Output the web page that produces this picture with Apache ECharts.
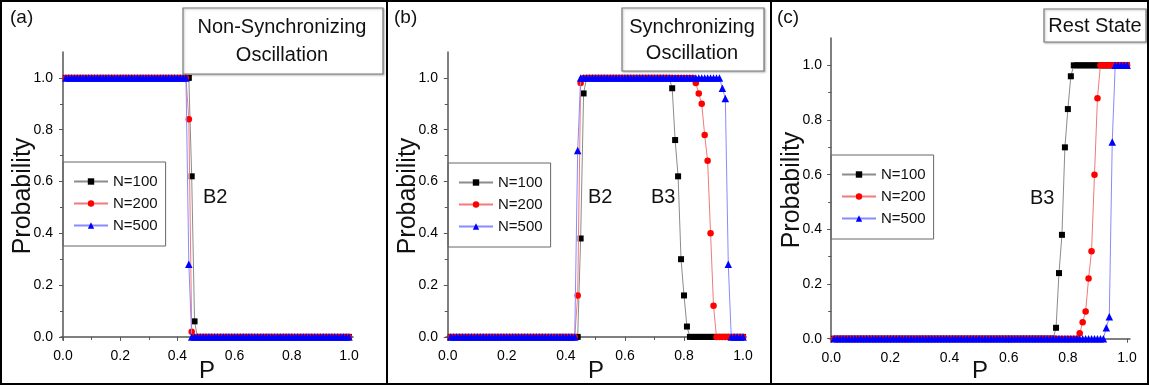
<!DOCTYPE html>
<html>
<head>
<meta charset="utf-8">
<script src="https://cdn.jsdelivr.net/npm/echarts@6/dist/echarts.min.js"></script>
<style>
  html, body { margin: 0; padding: 0; background: #fff; }
  #chart { width: 1149px; height: 390px; }
</style>
</head>
<body>
<div id="chart"></div>
<script>
// coupling probability P, sampled every 0.01
var P = [
  0.01, 0.02, 0.03, 0.04, 0.05, 0.06, 0.07, 0.08, 0.09, 0.10,
  0.11, 0.12, 0.13, 0.14, 0.15, 0.16, 0.17, 0.18, 0.19, 0.20,
  0.21, 0.22, 0.23, 0.24, 0.25, 0.26, 0.27, 0.28, 0.29, 0.30,
  0.31, 0.32, 0.33, 0.34, 0.35, 0.36, 0.37, 0.38, 0.39, 0.40,
  0.41, 0.42, 0.43, 0.44, 0.45, 0.46, 0.47, 0.48, 0.49, 0.50,
  0.51, 0.52, 0.53, 0.54, 0.55, 0.56, 0.57, 0.58, 0.59, 0.60,
  0.61, 0.62, 0.63, 0.64, 0.65, 0.66, 0.67, 0.68, 0.69, 0.70,
  0.71, 0.72, 0.73, 0.74, 0.75, 0.76, 0.77, 0.78, 0.79, 0.80,
  0.81, 0.82, 0.83, 0.84, 0.85, 0.86, 0.87, 0.88, 0.89, 0.90,
  0.91, 0.92, 0.93, 0.94, 0.95, 0.96, 0.97, 0.98, 0.99, 1.00
];

// (a) Non-Synchronizing Oscillation
var a100 = [
  1, 1, 1, 1, 1, 1, 1, 1, 1, 1,
  1, 1, 1, 1, 1, 1, 1, 1, 1, 1,
  1, 1, 1, 1, 1, 1, 1, 1, 1, 1,
  1, 1, 1, 1, 1, 1, 1, 1, 1, 1,
  1, 1, 1, 1, 0.62, 0.06, 0, 0, 0, 0,
  0, 0, 0, 0, 0, 0, 0, 0, 0, 0,
  0, 0, 0, 0, 0, 0, 0, 0, 0, 0,
  0, 0, 0, 0, 0, 0, 0, 0, 0, 0,
  0, 0, 0, 0, 0, 0, 0, 0, 0, 0,
  0, 0, 0, 0, 0, 0, 0, 0, 0, 0
];
var a200 = [
  1, 1, 1, 1, 1, 1, 1, 1, 1, 1,
  1, 1, 1, 1, 1, 1, 1, 1, 1, 1,
  1, 1, 1, 1, 1, 1, 1, 1, 1, 1,
  1, 1, 1, 1, 1, 1, 1, 1, 1, 1,
  1, 1, 1, 0.84, 0.02, 0, 0, 0, 0, 0,
  0, 0, 0, 0, 0, 0, 0, 0, 0, 0,
  0, 0, 0, 0, 0, 0, 0, 0, 0, 0,
  0, 0, 0, 0, 0, 0, 0, 0, 0, 0,
  0, 0, 0, 0, 0, 0, 0, 0, 0, 0,
  0, 0, 0, 0, 0, 0, 0, 0, 0, 0
];
var a500 = [
  1, 1, 1, 1, 1, 1, 1, 1, 1, 1,
  1, 1, 1, 1, 1, 1, 1, 1, 1, 1,
  1, 1, 1, 1, 1, 1, 1, 1, 1, 1,
  1, 1, 1, 1, 1, 1, 1, 1, 1, 1,
  1, 1, 1, 0.28, 0, 0, 0, 0, 0, 0,
  0, 0, 0, 0, 0, 0, 0, 0, 0, 0,
  0, 0, 0, 0, 0, 0, 0, 0, 0, 0,
  0, 0, 0, 0, 0, 0, 0, 0, 0, 0,
  0, 0, 0, 0, 0, 0, 0, 0, 0, 0,
  0, 0, 0, 0, 0, 0, 0, 0, 0, 0
];

// (b) Synchronizing Oscillation
var b100 = [
  0, 0, 0, 0, 0, 0, 0, 0, 0, 0,
  0, 0, 0, 0, 0, 0, 0, 0, 0, 0,
  0, 0, 0, 0, 0, 0, 0, 0, 0, 0,
  0, 0, 0, 0, 0, 0, 0, 0, 0, 0,
  0, 0, 0, 0, 0.38, 0.94, 1, 1, 1, 1,
  1, 1, 1, 1, 1, 1, 1, 1, 1, 1,
  1, 1, 1, 1, 1, 1, 1, 1, 1, 1,
  1, 1, 1, 1, 1, 0.96, 0.76, 0.62, 0.30, 0.16,
  0.04, 0, 0, 0, 0, 0, 0, 0, 0, 0,
  0, 0, 0, 0, 0, 0, 0, 0, 0, 0
];
var b200 = [
  0, 0, 0, 0, 0, 0, 0, 0, 0, 0,
  0, 0, 0, 0, 0, 0, 0, 0, 0, 0,
  0, 0, 0, 0, 0, 0, 0, 0, 0, 0,
  0, 0, 0, 0, 0, 0, 0, 0, 0, 0,
  0, 0, 0, 0.16, 0.98, 1, 1, 1, 1, 1,
  1, 1, 1, 1, 1, 1, 1, 1, 1, 1,
  1, 1, 1, 1, 1, 1, 1, 1, 1, 1,
  1, 1, 1, 1, 1, 1, 1, 1, 1, 1,
  1, 1, 1, 0.98, 0.94, 0.90, 0.78, 0.68, 0.40, 0.12,
  0, 0, 0, 0, 0, 0, 0, 0, 0, 0
];
var b500 = [
  0, 0, 0, 0, 0, 0, 0, 0, 0, 0,
  0, 0, 0, 0, 0, 0, 0, 0, 0, 0,
  0, 0, 0, 0, 0, 0, 0, 0, 0, 0,
  0, 0, 0, 0, 0, 0, 0, 0, 0, 0,
  0, 0, 0, 0.72, 1, 1, 1, 1, 1, 1,
  1, 1, 1, 1, 1, 1, 1, 1, 1, 1,
  1, 1, 1, 1, 1, 1, 1, 1, 1, 1,
  1, 1, 1, 1, 1, 1, 1, 1, 1, 1,
  1, 1, 1, 1, 1, 1, 1, 1, 1, 1,
  1, 1, 0.96, 0.92, 0.28, 0, 0, 0, 0, 0
];

// (c) Rest State
var c100 = [
  0, 0, 0, 0, 0, 0, 0, 0, 0, 0,
  0, 0, 0, 0, 0, 0, 0, 0, 0, 0,
  0, 0, 0, 0, 0, 0, 0, 0, 0, 0,
  0, 0, 0, 0, 0, 0, 0, 0, 0, 0,
  0, 0, 0, 0, 0, 0, 0, 0, 0, 0,
  0, 0, 0, 0, 0, 0, 0, 0, 0, 0,
  0, 0, 0, 0, 0, 0, 0, 0, 0, 0,
  0, 0, 0, 0, 0, 0.04, 0.24, 0.38, 0.70, 0.84,
  0.96, 1, 1, 1, 1, 1, 1, 1, 1, 1,
  1, 1, 1, 1, 1, 1, 1, 1, 1, 1
];
var c200 = [
  0, 0, 0, 0, 0, 0, 0, 0, 0, 0,
  0, 0, 0, 0, 0, 0, 0, 0, 0, 0,
  0, 0, 0, 0, 0, 0, 0, 0, 0, 0,
  0, 0, 0, 0, 0, 0, 0, 0, 0, 0,
  0, 0, 0, 0, 0, 0, 0, 0, 0, 0,
  0, 0, 0, 0, 0, 0, 0, 0, 0, 0,
  0, 0, 0, 0, 0, 0, 0, 0, 0, 0,
  0, 0, 0, 0, 0, 0, 0, 0, 0, 0,
  0, 0, 0, 0.02, 0.06, 0.10, 0.22, 0.32, 0.60, 0.88,
  1, 1, 1, 1, 1, 1, 1, 1, 1, 1
];
var c500 = [
  0, 0, 0, 0, 0, 0, 0, 0, 0, 0,
  0, 0, 0, 0, 0, 0, 0, 0, 0, 0,
  0, 0, 0, 0, 0, 0, 0, 0, 0, 0,
  0, 0, 0, 0, 0, 0, 0, 0, 0, 0,
  0, 0, 0, 0, 0, 0, 0, 0, 0, 0,
  0, 0, 0, 0, 0, 0, 0, 0, 0, 0,
  0, 0, 0, 0, 0, 0, 0, 0, 0, 0,
  0, 0, 0, 0, 0, 0, 0, 0, 0, 0,
  0, 0, 0, 0, 0, 0, 0, 0, 0, 0,
  0, 0, 0.04, 0.08, 0.72, 1, 1, 1, 1, 1
];

var seriesNames = ['N=100', 'N=200', 'N=500'];
var panelLabels = ['(a)', '(b)', '(c)'];
var majorTicks = [0, 0.2, 0.4, 0.6, 0.8, 1.0];
var minorTicks = [0.1, 0.3, 0.5, 0.7, 0.9];

var FONT = '"Liberation Sans", Arial, Helvetica, sans-serif';
var panels = [[a100, a200, a500], [b100, b200, b500], [c100, c200, c500]];

var grids = [
    {left: 61, top: 52, width: 292, height: 288, outerBoundsMode: 'none'},
    {left: 446, top: 52, width: 300, height: 288, outerBoundsMode: 'none'},
    {left: 830, top: 38, width: 300, height: 304, outerBoundsMode: 'none'}
];
var xRanges = [[-0.007, 1.014], [-0.006, 1.01], [-0.004, 1.01]];
var xNameGaps = [19, 19, 17];
var legendPos = [[63, 162], [448, 163], [831, 155]];

var markers = [
    {symbol: 'rect', size: 6, color: '#000000', line: '#8c8c8c'},
    {symbol: 'circle', size: 6.5, color: '#ff0000', line: '#f27a7a'},
    {symbol: 'triangle', size: 7.5, color: '#0000ff', line: '#8a8aff'}
];

var axisColor = '#555';
var xAxes = [], yAxes = [];
grids.forEach(function (g, i) {
    xAxes.push({
        type: 'value', gridIndex: i, position: 'bottom',
        min: xRanges[i][0], max: xRanges[i][1],
        name: 'P', nameLocation: 'middle', nameGap: xNameGaps[i], nameMoveOverlap: false,
        nameTextStyle: {fontSize: 24, color: '#111', fontFamily: FONT},
        axisLine: {lineStyle: {color: axisColor, width: 1.5}},
        axisTick: {customValues: majorTicks, length: 4, lineStyle: {color: axisColor}},
        axisLabel: {customValues: majorTicks, fontSize: 14, color: '#000', margin: 9,
            formatter: function (v) { return v.toFixed(1); }},
        splitLine: {show: false}
    });
    yAxes.push({
        type: 'value', gridIndex: i, position: 'left',
        min: -0.012, max: 1.1,
        name: 'Probability', nameLocation: 'middle', nameGap: 25, nameMoveOverlap: false,
        nameTextStyle: {fontSize: 25, color: '#111', fontFamily: FONT},
        axisLine: {show: true, lineStyle: {color: axisColor, width: 1.5}},
        axisTick: {show: true, customValues: majorTicks, length: 4, lineStyle: {color: axisColor}},
        axisLabel: {customValues: majorTicks, fontSize: 14, color: '#000', margin: 8,
            formatter: function (v) { return v.toFixed(1); }},
        splitLine: {show: false}
    });
});
// minor ticks
grids.forEach(function (g, i) {
    xAxes.push({
        type: 'value', gridIndex: i, position: 'bottom',
        min: xRanges[i][0], max: xRanges[i][1],
        axisLine: {show: false},
        axisTick: {customValues: minorTicks, length: 3, lineStyle: {color: axisColor}},
        axisLabel: {show: false}, splitLine: {show: false}
    });
    yAxes.push({
        type: 'value', gridIndex: i, position: 'left',
        min: -0.012, max: 1.1,
        axisLine: {show: false},
        axisTick: {show: true, customValues: minorTicks, length: 3, lineStyle: {color: axisColor}},
        axisLabel: {show: false}, splitLine: {show: false}
    });
});

var series = [];
panels.forEach(function (vals, i) {
    vals.forEach(function (v, k) {
        var m = markers[k];
        series.push({
            type: 'line', name: seriesNames[k],
            xAxisIndex: i, yAxisIndex: i,
            data: P.map(function (p, j) { return [p, v[j]]; }),
            symbol: m.symbol, symbolSize: m.size,
            itemStyle: {color: m.color},
            lineStyle: {color: m.line, width: 1},
            emphasis: {disabled: true},
            z: 2 + k
        });
    });
});

var legends = legendPos.map(function (pos) {
    return {
        left: pos[0], top: pos[1], orient: 'vertical',
        data: seriesNames,
        itemWidth: 34, itemHeight: 8, itemGap: 7,
        padding: [12, 8, 13, 10],
        borderColor: '#666', borderWidth: 1,
        selectedMode: false,
        textStyle: {fontSize: 15, color: '#111', fontFamily: FONT}
    };
});

function txt(text, x, y, size, align) {
    return {
        type: 'text', z: 100,
        style: {
            text: text, x: x, y: y,
            font: size + 'px ' + FONT, fill: '#111',
            align: align || 'center', textAlign: align || 'center',
            verticalAlign: 'middle', textVerticalAlign: 'middle'
        }
    };
}
function box(x, y, w, h) {
    return {
        type: 'rect', z: 90,
        shape: {x: x, y: y, width: w, height: h},
        style: {fill: '#fff', stroke: '#7a7a7a', lineWidth: 1.2,
            shadowBlur: 2, shadowOffsetX: 1, shadowOffsetY: 1, shadowColor: 'rgba(0,0,0,0.25)'}
    };
}
function frame(x, y, w, h) {
    return {
        type: 'rect', z: 95,
        shape: {x: x, y: y, width: w, height: h},
        style: {fill: 'none', stroke: '#000', lineWidth: 2}
    };
}

var graphics = [
    frame(1, 1, 386, 383), frame(387, 1, 384, 383), frame(771, 1, 377, 383),
    txt(panelLabels[0], 10, 18, 19, 'left'),
    txt(panelLabels[1], 394, 18, 19, 'left'),
    txt(panelLabels[2], 777, 18, 19, 'left'),
    box(183, 8, 200, 66),
    txt('Non-Synchronizing', 282, 27, 20),
    txt('Oscillation', 282, 55, 20),
    box(622, 8, 142, 63),
    txt('Synchronizing', 692, 27, 20),
    txt('Oscillation', 692, 53, 20),
    box(1044, 9, 102, 33),
    txt('Rest State', 1095, 26, 20),
    txt('B2', 203, 197, 20, 'left'),
    txt('B2', 588, 197, 20, 'left'),
    txt('B3', 651, 197, 20, 'left'),
    txt('B3', 1030, 198, 20, 'left')
];

var chart = echarts.init(document.getElementById('chart'));
chart.setOption({
    animation: false,
    backgroundColor: '#fff',
    textStyle: {fontFamily: FONT},
    grid: grids,
    xAxis: xAxes,
    yAxis: yAxes,
    legend: legends,
    series: series,
    graphic: graphics
});
</script>
</body>
</html>
